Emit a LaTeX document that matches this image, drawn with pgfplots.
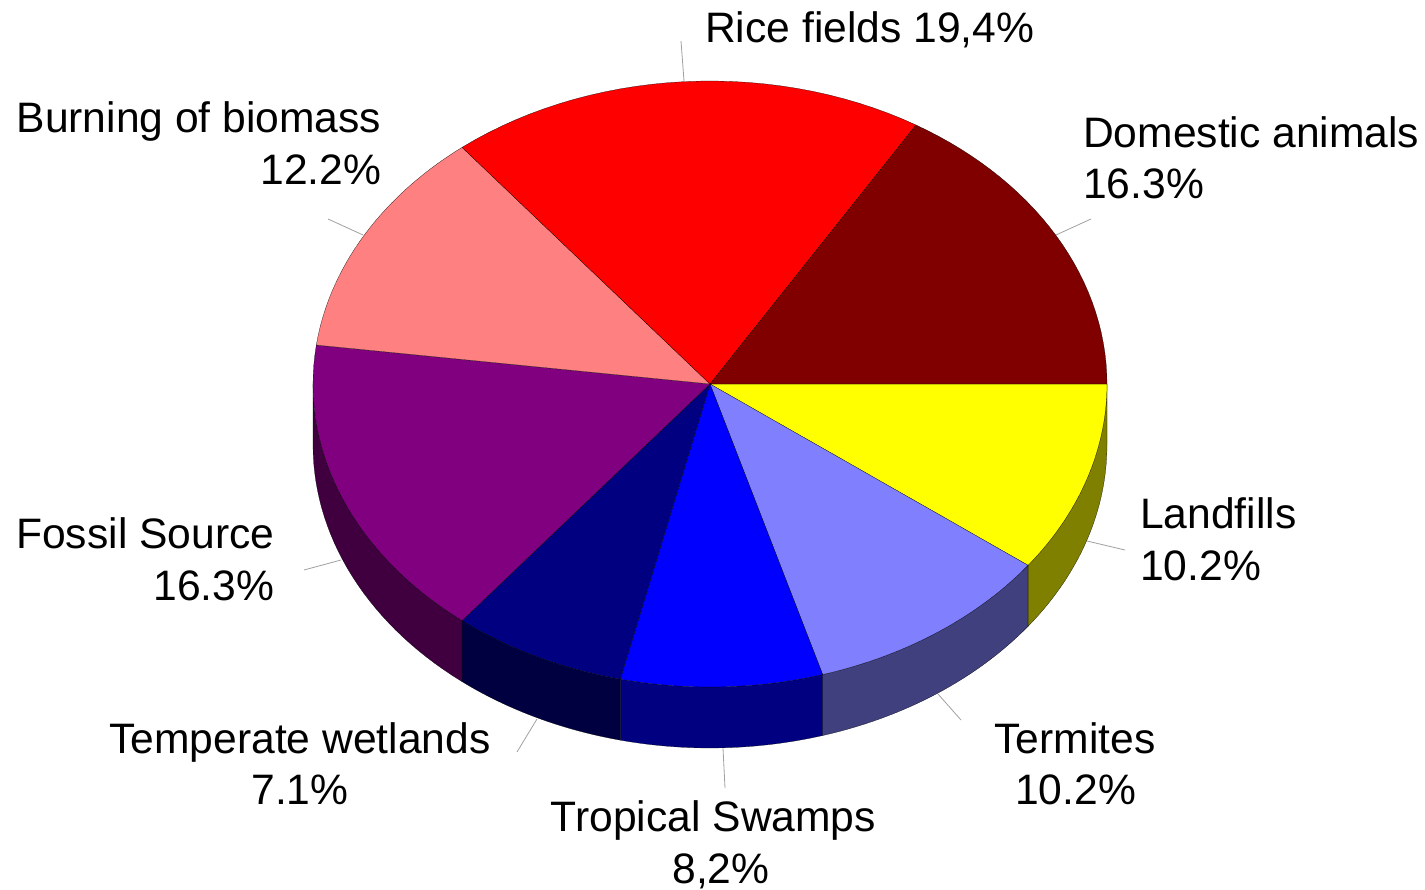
\documentclass[border=0pt]{standalone}
\usepackage{pgfplots}
\pgfplotsset{compat=1.18}
\usepackage{fontspec}
\setmainfont{Liberation Sans}
\definecolor{cYellow}{HTML}{FFFF00}
\definecolor{cYellowS}{HTML}{808000}
\definecolor{cLilac}{HTML}{8080FF}
\definecolor{cLilacS}{HTML}{40407F}
\definecolor{cBlue}{HTML}{0000FF}
\definecolor{cBlueS}{HTML}{000080}
\definecolor{cNavy}{HTML}{000080}
\definecolor{cNavyS}{HTML}{000040}
\definecolor{cPurple}{HTML}{800080}
\definecolor{cPurpleS}{HTML}{400040}
\definecolor{cSalmon}{HTML}{FF8080}
\definecolor{cRed}{HTML}{FF0000}
\definecolor{cMaroon}{HTML}{800000}
\definecolor{cLeader}{HTML}{A0A0A0}

% geometry of the tilted disc, in axis units
\def\cx{710}\def\cy{384}\def\rx{397}\def\ry{303}\def\depth{61}
% the stated shares add up to 99.9, which must fill the full turn
\def\total{99.9}

% appends an elliptical arc from angle #1 to #2, shifted down by #3, to \pts
\newcommand\appendarc[3]{%
  \pgfmathsetmacro\stepa{(#2-(#1))/30}%
  \foreach \i in {0,...,30}{%
    \pgfmathsetmacro\a{#1+\i*\stepa}%
    \pgfmathsetmacro\px{\cx+\rx*cos(\a)}%
    \pgfmathsetmacro\py{\cy+\ry*sin(\a)+#3}%
    \xdef\pts{\pts (\px,\py)}%
  }%
}

% one slice: share in percent, top colour, side colour
\gdef\cum{0}
\newcommand\slice[3]{%
  \pgfmathsetmacro\aa{(360/\total)*\cum}%
  \pgfmathsetmacro\ab{(360/\total)*(\cum+#1)}%
  \pgfmathparse{\aa<180 ? 1 : 0}%
  \ifnum\pgfmathresult=1
    \pgfmathsetmacro\abv{min(\ab,180)}%
    \gdef\pts{}%
    \appendarc{\aa}{\abv}{0}%
    \appendarc{\abv}{\aa}{\depth}%
    \edef\cmd{\noexpand\addplot[fill=#3,draw=black,line width=0.2pt] coordinates {\pts} --cycle;}%
    \cmd
  \fi
  \xdef\pts{(\cx,\cy)}%
  \appendarc{\aa}{\ab}{0}%
  \edef\cmd{\noexpand\addplot[fill=#2,draw=black,line width=0.2pt] coordinates {\pts} --cycle;}%
  \cmd
  \pgfmathsetmacro\newcum{\cum+#1}%
  \xdef\cum{\newcum}%
}

\newcommand\leader[4]{\addplot[cLeader,line width=0.8pt] coordinates {(#1,#2) (#3,#4)};}

\begin{document}
\begin{tikzpicture}
\begin{axis}[
  width=1425pt,height=890pt,scale only axis,
  xmin=0,xmax=1425,ymin=0,ymax=890,y dir=reverse,
  hide axis,clip=false,
  nodes={font=\fontsize{42.6}{52}\selectfont,inner sep=0pt,text=black},
]
% leader lines from the rim to the labels
\leader{1056}{235}{1091}{219}
\leader{684}{81}{681}{41}
\leader{363}{235}{328}{219}
\leader{341}{560}{304}{570}
\leader{537}{719}{517}{752}
\leader{723}{748}{725}{788}
\leader{938}{694}{961}{720}
\leader{1087}{541}{1125}{550}

% slices, clockwise from the right-hand edge
\slice{10.2}{cYellow}{cYellowS}
\slice{10.2}{cLilac}{cLilacS}
\slice{8.2}{cBlue}{cBlueS}
\slice{7.1}{cNavy}{cNavyS}
\slice{16.3}{cPurple}{cPurpleS}
\slice{12.2}{cSalmon}{black}
\slice{19.4}{cRed}{black}
\slice{16.3}{cMaroon}{black}

% labels
\node[anchor=base west] at (axis cs:705,43) {Rice fields 19,4\%};
\node[anchor=base west] at (axis cs:1083,148) {Domestic animals};
\node[anchor=base west] at (axis cs:1083,199) {16.3\%};
\node[anchor=base east] at (axis cs:381.5,133) {Burning of biomass};
\node[anchor=base east] at (axis cs:381.5,185) {12.2\%};
\node[anchor=base east] at (axis cs:274.5,548) {Fossil Source};
\node[anchor=base east] at (axis cs:274.5,600) {16.3\%};
\node[anchor=base west] at (axis cs:1140,528) {Landfills};
\node[anchor=base west] at (axis cs:1140,580) {10.2\%};
\node[anchor=base] at (axis cs:300,753) {Temperate wetlands};
\node[anchor=base] at (axis cs:300,804.5) {7.1\%};
\node[anchor=base] at (axis cs:1075,753) {Termites};
\node[anchor=base] at (axis cs:1075.5,804.5) {10.2\%};
\node[anchor=base] at (axis cs:713.5,831) {Tropical Swamps};
\node[anchor=base] at (axis cs:721,883) {8,2\%};
\end{axis}
% page frame, as large as the axis area
\path (0,0) rectangle (1425pt,890pt);
\end{tikzpicture}
\end{document}
